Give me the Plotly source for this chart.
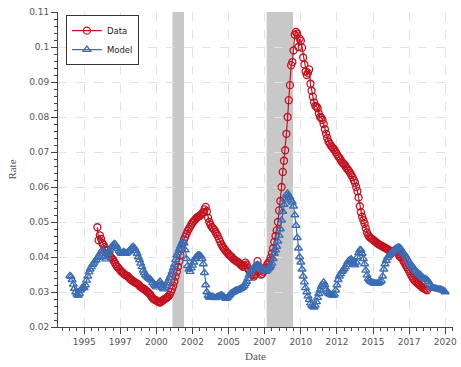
import pandas as pd
import plotly.graph_objects as go

# Monthly series (rates)
model_start = "1994-01-01"
model_rate = [
    # 1994
    0.0346, 0.0344, 0.0335, 0.0322, 0.0310, 0.0300, 0.0293, 0.0290, 0.0295, 0.0305, 0.0310, 0.0314,
    # 1995
    0.0312, 0.0320, 0.0333, 0.0345, 0.0357, 0.0365, 0.0372, 0.0378, 0.0382, 0.0388, 0.0392, 0.0398,
    # 1996
    0.0402, 0.0408, 0.0414, 0.0420, 0.0415, 0.0402, 0.0394, 0.0400, 0.0410, 0.0418, 0.0425, 0.0430,
    # 1997
    0.0434, 0.0438, 0.0436, 0.0430, 0.0424, 0.0418, 0.0414, 0.0410, 0.0412, 0.0415, 0.0412, 0.0410,
    # 1998
    0.0413, 0.0416, 0.0420, 0.0424, 0.0428, 0.0429, 0.0425, 0.0418, 0.0410, 0.0400, 0.0392, 0.0382,
    # 1999
    0.0372, 0.0362, 0.0355, 0.0348, 0.0345, 0.0341, 0.0338, 0.0336, 0.0333, 0.0327, 0.0322, 0.0318,
    # 2000
    0.0314, 0.0320, 0.0326, 0.0330, 0.0322, 0.0312, 0.0308, 0.0312, 0.0318, 0.0325, 0.0332, 0.0340,
    # 2001
    0.0348, 0.0358, 0.0368, 0.0378, 0.0392, 0.0405, 0.0412, 0.0422, 0.0430, 0.0438, 0.0445, 0.0440,
    # 2002
    0.0420, 0.0395, 0.0375, 0.0365, 0.0358, 0.0368, 0.0376, 0.0385, 0.0395, 0.0400, 0.0404, 0.0405,
    # 2003
    0.0405, 0.0402, 0.0395, 0.0380, 0.0355, 0.0320, 0.0300, 0.0290, 0.0285, 0.0285, 0.0286, 0.0287,
    # 2004
    0.0284, 0.0283, 0.0285, 0.0287, 0.0288, 0.0290, 0.0291, 0.0289, 0.0286, 0.0283, 0.0281, 0.0284,
    # 2005
    0.0288, 0.0292, 0.0296, 0.0298, 0.0300, 0.0302, 0.0304, 0.0305, 0.0306, 0.0308, 0.0310, 0.0312,
    # 2006
    0.0314, 0.0318, 0.0324, 0.0330, 0.0338, 0.0348, 0.0356, 0.0362, 0.0366, 0.0370, 0.0374, 0.0376,
    # 2007
    0.0378, 0.0376, 0.0374, 0.0371, 0.0366, 0.0362, 0.0360, 0.0358, 0.0362, 0.0366, 0.0370, 0.0375,
    # 2008
    0.0382, 0.0395, 0.0410, 0.0420, 0.0430, 0.0445, 0.0462, 0.0480, 0.0505, 0.0530, 0.0550, 0.0565,
    # 2009
    0.0578, 0.0582, 0.0575, 0.0570, 0.0562, 0.0556, 0.0545, 0.0520, 0.0490, 0.0455, 0.0425, 0.0400,
    # 2010
    0.0385, 0.0365, 0.0345, 0.0328, 0.0312, 0.0300, 0.0288, 0.0278, 0.0268, 0.0262, 0.0258, 0.0256,
    # 2011
    0.0262, 0.0272, 0.0284, 0.0295, 0.0305, 0.0315, 0.0322, 0.0328, 0.0320, 0.0308, 0.0300, 0.0296,
    # 2012
    0.0294, 0.0292, 0.0291, 0.0290, 0.0293, 0.0305, 0.0320, 0.0335, 0.0345, 0.0352, 0.0358, 0.0362,
    # 2013
    0.0366, 0.0372, 0.0378, 0.0385, 0.0390, 0.0392, 0.0394, 0.0388, 0.0380, 0.0377, 0.0385, 0.0400,
    # 2014
    0.0412, 0.0420, 0.0420, 0.0410, 0.0395, 0.0380, 0.0362, 0.0348, 0.0338, 0.0334, 0.0330, 0.0328,
    # 2015
    0.0326, 0.0325, 0.0324, 0.0324, 0.0325, 0.0326, 0.0328, 0.0332, 0.0345, 0.0365, 0.0380, 0.0390,
    # 2016
    0.0398, 0.0403, 0.0407, 0.0410, 0.0414, 0.0418, 0.0421, 0.0424, 0.0426, 0.0428, 0.0427, 0.0424,
    # 2017
    0.0418, 0.0412, 0.0408, 0.0404, 0.0398, 0.0392, 0.0386, 0.0380, 0.0375, 0.0372, 0.0368, 0.0362,
    # 2018
    0.0358, 0.0355, 0.0352, 0.0350, 0.0346, 0.0342, 0.0340, 0.0338, 0.0336, 0.0335, 0.0330, 0.0322,
    # 2019
    0.0318, 0.0314, 0.0312, 0.0310, 0.0310, 0.0309, 0.0308, 0.0308, 0.0307, 0.0306, 0.0305, 0.0303,
    # 2020
    0.0300,
]

data_start = "1995-12-01"
data_rate = [
    # 1995 Dec
    0.0485,
    # 1996
    0.0448, 0.0462, 0.0452, 0.0440, 0.0435, 0.0428, 0.0420, 0.0418, 0.0410, 0.0404, 0.0400, 0.0396,
    # 1997
    0.0392, 0.0386, 0.0380, 0.0374, 0.0371, 0.0366, 0.0362, 0.0358, 0.0355, 0.0352, 0.0349, 0.0347,
    # 1998
    0.0346, 0.0342, 0.0338, 0.0335, 0.0333, 0.0330, 0.0328, 0.0326, 0.0324, 0.0322, 0.0318, 0.0314,
    # 1999
    0.0312, 0.0310, 0.0308, 0.0305, 0.0302, 0.0300, 0.0296, 0.0292, 0.0286, 0.0282, 0.0279, 0.0277,
    # 2000
    0.0276, 0.0273, 0.0271, 0.0270, 0.0272, 0.0275, 0.0278, 0.0280, 0.0282, 0.0285, 0.0287, 0.0292,
    # 2001
    0.0300, 0.0308, 0.0318, 0.0330, 0.0344, 0.0358, 0.0372, 0.0388, 0.0405, 0.0425, 0.0440, 0.0450,
    # 2002
    0.0458, 0.0466, 0.0474, 0.0480, 0.0486, 0.0492, 0.0498, 0.0502, 0.0506, 0.0510, 0.0514, 0.0516,
    # 2003
    0.0518, 0.0520, 0.0524, 0.0528, 0.0536, 0.0543, 0.0530, 0.0512, 0.0500, 0.0492, 0.0486, 0.0482,
    # 2004
    0.0478, 0.0472, 0.0466, 0.0460, 0.0452, 0.0444, 0.0436, 0.0430, 0.0425, 0.0420, 0.0416, 0.0412,
    # 2005
    0.0408, 0.0404, 0.0402, 0.0398, 0.0394, 0.0392, 0.0389, 0.0387, 0.0385, 0.0382, 0.0378, 0.0375,
    # 2006
    0.0372, 0.0376, 0.0384, 0.0378, 0.0368, 0.0362, 0.0358, 0.0352, 0.0348, 0.0344, 0.0350, 0.0362,
    # 2007
    0.0388, 0.0372, 0.0360, 0.0350, 0.0352, 0.0358, 0.0364, 0.0370, 0.0378, 0.0383, 0.0388, 0.0398,
    # 2008
    0.0410, 0.0425, 0.0443, 0.0460, 0.0476, 0.0500, 0.0533, 0.0560, 0.0600, 0.0643, 0.0675, 0.0705,
    # 2009
    0.0752, 0.0800, 0.0848, 0.0891, 0.0948, 0.0957, 0.0990, 0.1035, 0.1043, 0.1038, 0.1000, 0.1024,
    # 2010
    0.1018, 0.0998, 0.0970, 0.0950, 0.0930, 0.0920, 0.0926, 0.0936, 0.0895, 0.0875, 0.0858, 0.0842,
    # 2011
    0.0832, 0.0830, 0.0825, 0.0810, 0.0800, 0.0798, 0.0792, 0.0780, 0.0765, 0.0752, 0.0740, 0.0730,
    # 2012
    0.0724, 0.0718, 0.0714, 0.0710, 0.0706, 0.0700, 0.0694, 0.0688, 0.0684, 0.0678, 0.0672, 0.0668,
    # 2013
    0.0665, 0.0660, 0.0654, 0.0650, 0.0646, 0.0640, 0.0634, 0.0628, 0.0620, 0.0612, 0.0600, 0.0588,
    # 2014
    0.0570, 0.0545, 0.0528, 0.0515, 0.0505, 0.0495, 0.0482, 0.0470, 0.0462, 0.0458, 0.0454, 0.0452,
    # 2015
    0.0449, 0.0446, 0.0444, 0.0441, 0.0438, 0.0436, 0.0434, 0.0432, 0.0430, 0.0428, 0.0426, 0.0424,
    # 2016
    0.0422, 0.0420, 0.0418, 0.0415, 0.0413, 0.0416, 0.0419, 0.0420, 0.0415, 0.0408, 0.0402, 0.0400,
    # 2017
    0.0396, 0.0390, 0.0384, 0.0378, 0.0372, 0.0366, 0.0360, 0.0353, 0.0346, 0.0340, 0.0335, 0.0331,
    # 2018
    0.0328, 0.0325, 0.0322, 0.0319, 0.0316, 0.0313, 0.0311, 0.0309, 0.0307, 0.0305,
]

recessions = [("2001-02-10", "2001-12-01"), ("2007-08-20", "2009-06-20")]

x_tick_vals = ["1995-01-01", "1997-07-01", "2000-01-01", "2002-07-01", "2005-01-01", "2007-07-01",
               "2010-01-01", "2012-07-01", "2015-01-01", "2017-07-01", "2020-01-01"]
x_tick_text = ["1995", "1997", "2000", "2002", "2005", "2007", "2010", "2012", "2015", "2017", "2020"]
y_tick_vals = [0.02, 0.03, 0.04, 0.05, 0.06, 0.07, 0.08, 0.09, 0.10, 0.11]
y_tick_text = ["0.02", "0.03", "0.04", "0.05", "0.06", "0.07", "0.08", "0.09", "0.1", "0.11"]

model_dates = pd.date_range(model_start, periods=len(model_rate), freq="MS")
data_dates = pd.date_range(data_start, periods=len(data_rate), freq="MS")

RED = "#c3111f"
BLUE = "#3b6cb4"

fig = go.Figure()
fig.add_trace(go.Scatter(
    x=data_dates, y=data_rate, name="Data", mode="lines+markers",
    line=dict(color=RED, width=1.2),
    marker=dict(symbol="circle-open", size=7, color=RED, line=dict(width=1.3, color=RED)),
))
fig.add_trace(go.Scatter(
    x=model_dates, y=model_rate, name="Model", mode="lines+markers",
    line=dict(color=BLUE, width=1.2),
    marker=dict(symbol="triangle-up-open", size=7, color=BLUE, line=dict(width=1.3, color=BLUE)),
))

for a, b in recessions:
    fig.add_shape(type="rect", xref="x", yref="paper", x0=a, x1=b, y0=0, y1=1,
                  fillcolor="#c8c8c8", line=dict(width=0), layer="below")

tick_font = dict(family="DejaVu Sans", size=9, color="#555555")
title_font = dict(family="Liberation Serif", size=11, color="#555555")

fig.update_layout(
    width=461, height=367,
    margin=dict(l=58, r=4, t=12, b=40),
    paper_bgcolor="white", plot_bgcolor="white",
    showlegend=True,
    legend=dict(x=0.02, y=0.99, xanchor="left", yanchor="top",
                bgcolor="white", bordercolor="#333333", borderwidth=1,
                font=dict(family="DejaVu Sans", size=8.5, color="#222222"),
                tracegroupgap=0, itemwidth=30),
)
fig.update_xaxes(
    type="date", range=["1993-03-10", "2020-07-15"],
    tickmode="array", tickvals=x_tick_vals, ticktext=x_tick_text,
    ticks="outside", ticklen=6, tickwidth=1, tickcolor="#444444",
    showline=True, linecolor="#444444", linewidth=1,
    showgrid=True, gridcolor="#e2e2e2", griddash="dash", gridwidth=1,
    zeroline=False, tickfont=tick_font,
    minor=dict(ticks="outside", ticklen=3, tickcolor="#444444", tickwidth=1,
               tick0="1993-07-01", dtick="M6", showgrid=False),
    title=dict(text="Date", font=title_font, standoff=6),
)
fig.update_yaxes(
    range=[0.02, 0.11],
    tickmode="array", tickvals=y_tick_vals, ticktext=y_tick_text,
    ticks="outside", ticklen=6, tickwidth=1, tickcolor="#444444",
    showline=True, linecolor="#444444", linewidth=1,
    showgrid=True, gridcolor="#e2e2e2", griddash="dash", gridwidth=1,
    zeroline=False, tickfont=tick_font,
    minor=dict(ticks="outside", ticklen=3, tickcolor="#444444", tickwidth=1,
               tick0=0.02, dtick=0.002, showgrid=False),
    title=dict(text="Rate", font=title_font, standoff=10),
)

fig.write_html("out.html")
